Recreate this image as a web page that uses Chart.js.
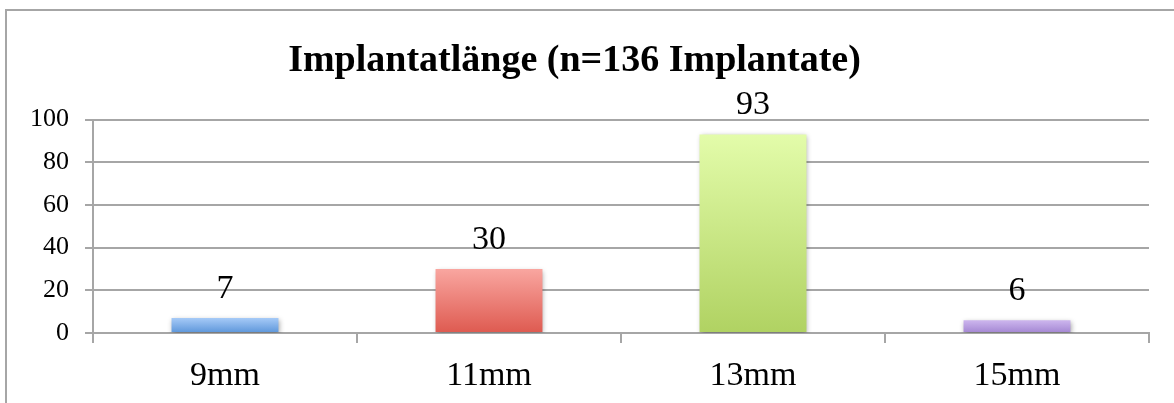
<!DOCTYPE html>
<html>
<head>
<meta charset="utf-8">
<script src="https://cdn.jsdelivr.net/npm/chart.js@4.4.1/dist/chart.umd.min.js"></script>
<style>
  html, body { margin: 0; padding: 0; background: #fff; overflow: hidden; }
  #wrap { position: relative; width: 1174px; height: 403px; }
  #frame { position: absolute; left: 5px; top: 9px; width: 1300px; height: 600px; border: 2px solid #a6a6a6; box-sizing: border-box; }
  canvas { position: absolute; left: 0; top: 0; }
</style>
</head>
<body>
<div id="wrap">
  <div id="frame"></div>
  <canvas id="c" width="1174" height="403"></canvas>
</div>
<script>
const categories = ['9mm', '11mm', '13mm', '15mm'];
const values = [7, 30, 93, 6];
const gradientTops = ['#a6caf7', '#f9a6a0', '#e3fcaa', '#cdb6ee'];
const gradientBottoms = ['#5c96da', '#de5a50', '#b0d262', '#a386d2'];
const yTicks = [0, 20, 40, 60, 80, 100];
const titleText = 'Implantatlänge (n=136 Implantate)';

const SERIF = '"Liberation Serif", "DejaVu Serif", serif';

function barFill(ctx) {
  const chart = ctx.chart;
  const i = ctx.dataIndex;
  const y = chart.scales && chart.scales.y;
  if (!chart.chartArea || !y || i === undefined) return gradientBottoms[i] || '#888';
  const top = y.getPixelForValue(values[i]);
  const bottom = y.getPixelForValue(0);
  const g = chart.ctx.createLinearGradient(0, top, 0, bottom);
  g.addColorStop(0, gradientTops[i]);
  g.addColorStop(1, gradientBottoms[i]);
  return g;
}

const shadowPlugin = {
  id: 'barShadow',
  beforeDatasetsDraw(chart) {
    const c = chart.ctx;
    c.save();
    c.shadowColor = 'rgba(0,0,0,0.35)';
    c.shadowBlur = 5;
    c.shadowOffsetX = 1;
    c.shadowOffsetY = 2;
  },
  afterDatasetsDraw(chart) {
    chart.ctx.restore();
  }
};

const labelPlugin = {
  id: 'valueLabels',
  afterDatasetsDraw(chart) {
    const c = chart.ctx;
    const meta = chart.getDatasetMeta(0);
    c.save();
    c.font = '34px ' + SERIF;
    c.fillStyle = '#000';
    c.textAlign = 'center';
    c.textBaseline = 'alphabetic';
    meta.data.forEach((bar, i) => {
      c.fillText(String(values[i]), bar.x, bar.y - 20);
    });
    c.restore();
  }
};

new Chart(document.getElementById('c'), {
  type: 'bar',
  data: {
    labels: categories,
    datasets: [{
      data: values,
      backgroundColor: barFill,
      borderWidth: 0,
      categoryPercentage: 1.0,
      barPercentage: 0.405
    }]
  },
  options: {
    responsive: false,
    animation: false,
    layout: { padding: { left: 0, right: 25, top: 0, bottom: 0 } },
    plugins: {
      legend: { display: false },
      tooltip: { enabled: false },
      title: {
        display: true,
        text: titleText,
        color: '#000',
        font: { family: SERIF, size: 38, weight: 'bold', lineHeight: 1.2 },
        padding: { top: 38.7, bottom: 35.2 }
      }
    },
    scales: {
      x: {
        grid: { display: true, drawOnChartArea: false, drawTicks: true, tickLength: 10, color: '#a6a6a6', lineWidth: 2, offset: true },
        border: { display: true, color: '#a6a6a6', width: 2 },
        ticks: { color: '#000', font: { family: SERIF, size: 34 }, padding: 13, maxRotation: 0 },
        afterFit(scale) { scale.height = 70; }
      },
      y: {
        min: 0, max: 100,
        afterBuildTicks(scale) { scale.ticks = yTicks.map(v => ({ value: v })); },
        grid: { display: true, drawOnChartArea: true, drawTicks: true, tickLength: 8, color: '#a6a6a6', lineWidth: 2 },
        border: { display: true, color: '#a6a6a6', width: 2 },
        ticks: { color: '#000', font: { family: SERIF, size: 26 }, padding: 16 },
        afterFit(scale) { scale.width = 93; }
      }
    }
  },
  plugins: [shadowPlugin, labelPlugin]
});
</script>
</body>
</html>
